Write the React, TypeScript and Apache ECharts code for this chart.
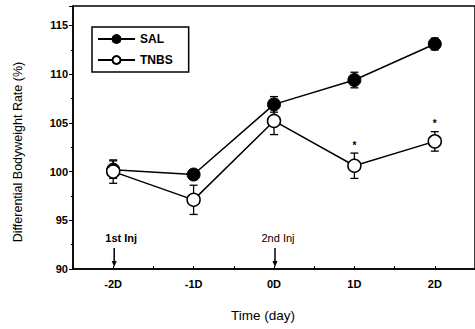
import React, { useEffect, useRef } from "react";
import * as echarts from "echarts";

const categories = ["-2D", "-1D", "0D", "1D", "2D"];
const salValues = [100.2, 99.7, 106.9, 109.4, 113.1];
const salErrors = [0.9, 0.5, 0.8, 0.8, 0.6];
const tnbsValues = [100.0, 97.1, 105.2, 100.6, 103.1];
const tnbsErrors = [1.2, 1.5, 1.4, 1.3, 1.0];
const sigIndices = [3, 4];
const injCategories = [0, 2];
const injLabels = ["1st Inj", "2nd Inj"];
const yTicks = [90, 95, 100, 105, 110, 115];

const FONT = "Liberation Sans, Arial, sans-serif";

export default function App() {
  const ref = useRef<HTMLDivElement>(null);
  useEffect(() => {
    document.body.style.margin = "0";
    const chart = echarts.init(ref.current!, null, { renderer: "svg" });

    const errData = (vals: number[], errs: number[]) =>
      vals.map((v, i) => [i, v, errs[i]]);

    const errorRender = (params: any, api: any) => {
      const x = api.value(0);
      const y = api.value(1);
      const e = api.value(2);
      const top = api.coord([x, y + e]);
      const bot = api.coord([x, y - e]);
      const style = { stroke: "#000", lineWidth: 1.3 };
      return {
        type: "group",
        children: [
          { type: "line", shape: { x1: top[0], y1: top[1], x2: bot[0], y2: bot[1] }, style },
          { type: "line", shape: { x1: top[0] - 4, y1: top[1], x2: top[0] + 4, y2: top[1] }, style },
          { type: "line", shape: { x1: bot[0] - 4, y1: bot[1], x2: bot[0] + 4, y2: bot[1] }, style },
        ],
      };
    };

    chart.setOption({
      animation: false,
      grid: { left: 73, top: 6, width: 405, height: 263, show: true, borderColor: "#000", borderWidth: 1.5 },
      legend: {
        data: ["SAL", "TNBS"],
        orient: "vertical",
        left: 92,
        top: 27,
        itemWidth: 37,
        itemHeight: 10,
        itemGap: 9,
        padding: [6, 16, 6, 5],
        borderColor: "#000",
        borderWidth: 1.5,
        textStyle: { fontFamily: FONT, fontWeight: "bold", fontSize: 12, color: "#000" },
      },
      graphic: [
        {
          type: "text",
          x: 18,
          y: 152,
          rotation: Math.PI / 2,
          style: {
            text: "Differential Bodyweight Rate (%)",
            fontFamily: FONT,
            fontSize: 12.5,
            fill: "#000",
            align: "center",
            verticalAlign: "middle",
          },
        },
        {
          type: "text",
          x: 263,
          y: 315,
          style: {
            text: "Time (day)",
            fontFamily: FONT,
            fontSize: 13.5,
            fill: "#000",
            align: "center",
            verticalAlign: "middle",
          },
        },
      ],
      xAxis: [
        {
          type: "category",
          data: categories,
          boundaryGap: true,
          axisLine: { onZero: false, lineStyle: { color: "#000", width: 1.5 } },
          axisTick: { alignWithLabel: true, length: 3, lineStyle: { color: "#000" } },
          axisLabel: { fontFamily: FONT, fontWeight: "bold", fontSize: 11, color: "#000", margin: 9 },
          splitLine: { show: false },
        },
        {
          type: "value",
          position: "bottom",
          min: -2.5,
          max: 2.5,
          interval: 0.5,
          axisLine: { show: false, onZero: false },
          axisTick: { show: true, inside: true, length: 3, lineStyle: { color: "#000" } },
          axisLabel: { show: false },
          splitLine: { show: false },
        },
      ],
      yAxis: {
        type: "value",
        min: 90,
        max: 117,
        interval: 5,
        axisLine: { show: true, onZero: false, lineStyle: { color: "#000", width: 1.5 } },
        axisTick: { length: 4, lineStyle: { color: "#000" } },
        minorTick: { show: true, splitNumber: 2, length: 2, lineStyle: { color: "#000" } },
        axisLabel: {
          fontFamily: FONT,
          fontWeight: "bold",
          fontSize: 11,
          color: "#000",
          margin: 5,
          formatter: (v: number) => (yTicks.includes(v) ? String(v) : ""),
        },
        splitLine: { show: false },
      },
      series: [
        {
          type: "custom",
          renderItem: errorRender,
          data: errData(salValues, salErrors),
          itemStyle: { color: "#000" },
          z: 1,
          silent: true,
        },
        {
          type: "custom",
          renderItem: errorRender,
          data: errData(tnbsValues, tnbsErrors),
          itemStyle: { color: "#000" },
          z: 1,
          silent: true,
        },
        {
          name: "SAL",
          type: "line",
          data: salValues,
          symbol: "circle",
          symbolSize: 13,
          lineStyle: { color: "#000", width: 1.5 },
          itemStyle: { color: "#000", borderColor: "#000", borderWidth: 1 },
          z: 5,
        },
        {
          name: "TNBS",
          type: "line",
          data: tnbsValues,
          symbol: "circle",
          symbolSize: 13,
          lineStyle: { color: "#000", width: 1.5 },
          itemStyle: { color: "#fff", borderColor: "#000", borderWidth: 1.5 },
          z: 5,
        },
        {
          type: "custom",
          silent: true,
          z: 6,
          itemStyle: { color: "#000" },
          data: sigIndices.map((i) => [i, tnbsValues[i], tnbsErrors[i]]),
          renderItem: (params: any, api: any) => {
            const p = api.coord([api.value(0), api.value(1) + api.value(2)]);
            return {
              type: "text",
              x: p[0],
              y: p[1] - 3,
              style: { text: "*", fontFamily: FONT, fontSize: 10, fontWeight: "bold", fill: "#000", stroke: "none", align: "center", verticalAlign: "bottom" },
            };
          },
        },
        {
          type: "custom",
          silent: true,
          z: 6,
          itemStyle: { color: "#000" },
          data: injCategories.map((c, i) => [c, 90, i]),
          renderItem: (params: any, api: any) => {
            const p = api.coord([api.value(0), 90]);
            const idx = api.value(2);
            const label = injLabels[idx];
            const x = p[0];
            const yb = p[1];
            return {
              type: "group",
              children: [
                {
                  type: "text",
                  x: x + (idx === 0 ? 8 : 4),
                  y: yb - 31,
                  style: {
                    text: label,
                    fontFamily: FONT,
                    fontSize: 11,
                    fontWeight: idx === 0 ? "bold" : "normal",
                    fill: "#000",
                    stroke: "none",
                    align: "center",
                    verticalAlign: "middle",
                  },
                },
                { type: "line", shape: { x1: x + 1, y1: yb - 21, x2: x + 1, y2: yb - 6 }, style: { stroke: "#000", lineWidth: 1.5 } },
                { type: "polygon", shape: { points: [[x - 1.5, yb - 8], [x + 3.5, yb - 8], [x + 1, yb - 2]] }, style: { fill: "#000" } },
              ],
            };
          },
        },
      ],
    });
    return () => chart.dispose();
  }, []);
  return <div ref={ref} style={{ width: 475, height: 329 }} />;
}
